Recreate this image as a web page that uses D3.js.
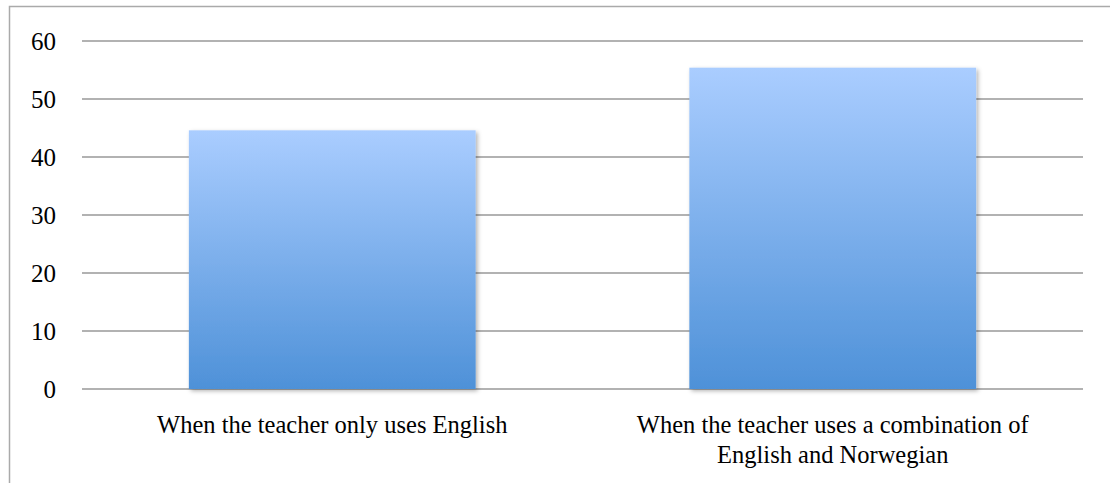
<!DOCTYPE html>
<html>
<head>
<meta charset="utf-8">
<script src="https://cdn.jsdelivr.net/npm/d3@7"></script>
<style>
  html, body { margin: 0; padding: 0; background: #fff; }
  svg { display: block; }
  text { font-family: "Liberation Serif", "DejaVu Serif", serif; fill: #000; }
</style>
</head>
<body>
<div id="vis"></div>
<script>
// data
const categories = [
  ["When the teacher only uses English"],
  ["When the teacher uses a combination of", "English and Norwegian"]
];
const values = [44.6, 55.4];
const yTicks = [0, 10, 20, 30, 40, 50, 60];

const W = 1110, H = 483;
const margin = { top: 41, right: 27, bottom: 94, left: 82 };
const width = W - margin.left - margin.right,
      height = H - margin.top - margin.bottom;

const svg = d3.select("#vis").append("svg")
  .attr("width", W).attr("height", H);

// outer frame (continues past right/bottom edge)
svg.append("rect")
  .attr("x", 9.5).attr("y", 6.5)
  .attr("width", W + 20).attr("height", H + 20)
  .attr("fill", "none").attr("stroke", "#aaa").attr("stroke-width", 1.5);

const defs = svg.append("defs");
const grad = defs.append("linearGradient")
  .attr("id", "barGrad").attr("x1", 0).attr("y1", 0).attr("x2", 0).attr("y2", 1);
grad.append("stop").attr("offset", "0%").attr("stop-color", "#aacdff");
grad.append("stop").attr("offset", "100%").attr("stop-color", "#4e91d8");

const shadow = defs.append("filter").attr("id", "shadow")
  .attr("x", "-10%").attr("y", "-10%").attr("width", "120%").attr("height", "120%");
shadow.append("feDropShadow")
  .attr("dx", 2).attr("dy", 2).attr("stdDeviation", 2)
  .attr("flood-color", "#000").attr("flood-opacity", 0.3);

const g = svg.append("g")
  .attr("transform", "translate(" + margin.left + "," + margin.top + ")");

const x = d3.scaleBand()
  .domain(d3.range(categories.length))
  .range([0, width])
  .paddingInner(0.427)
  .paddingOuter(0.2135);

const y = d3.scaleLinear().domain([0, 60]).range([height, 0]);

// gridlines
g.append("g")
  .selectAll("line")
  .data(yTicks)
  .enter()
  .append("line")
  .attr("x1", 0).attr("x2", width)
  .attr("y1", d => y(d)).attr("y2", d => y(d))
  .attr("stroke", "#999").attr("stroke-width", 1.5);

// y tick labels
g.append("g")
  .selectAll("text")
  .data(yTicks)
  .enter()
  .append("text")
  .attr("x", -26)
  .attr("y", d => y(d))
  .attr("dy", "0.35em")
  .attr("text-anchor", "end")
  .style("font-size", "25px")
  .text(d => d);

// bars
g.append("g")
  .selectAll("rect")
  .data(values)
  .enter()
  .append("rect")
  .attr("x", (d, i) => x(i))
  .attr("y", d => y(d))
  .attr("width", x.bandwidth())
  .attr("height", d => height - y(d))
  .attr("fill", "url(#barGrad)")
  .attr("filter", "url(#shadow)");

// category labels
const lab = g.append("g")
  .selectAll("text")
  .data(categories)
  .enter()
  .append("text")
  .attr("x", (d, i) => x(i) + x.bandwidth() / 2)
  .attr("y", height + 44)
  .attr("text-anchor", "middle")
  .style("font-size", "24.5px");

lab.selectAll("tspan")
  .data(d => d)
  .enter()
  .append("tspan")
  .attr("x", function() { return this.parentNode.getAttribute("x"); })
  .attr("dy", (d, i) => i === 0 ? 0 : 30)
  .text(d => d);
</script>
</body>
</html>
